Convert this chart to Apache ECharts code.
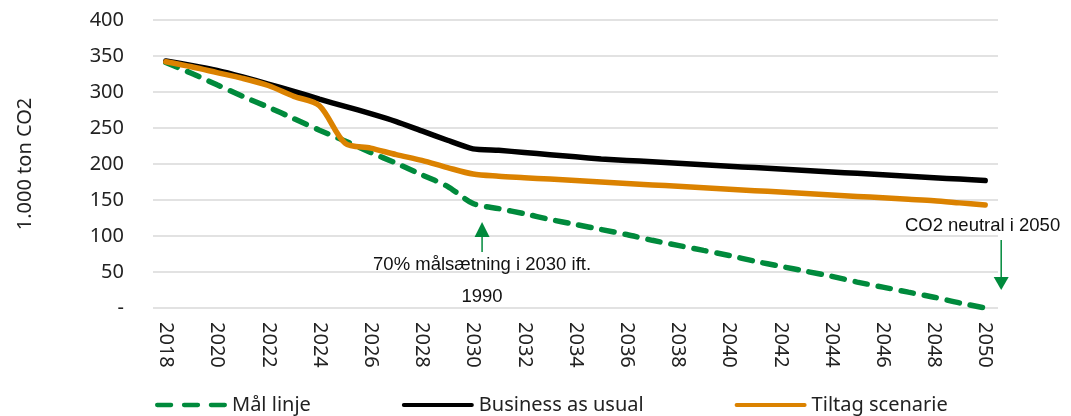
<!DOCTYPE html>
<html>
<head>
<meta charset="utf-8">
<script src="https://cdn.jsdelivr.net/npm/echarts@6/dist/echarts.min.js"></script>
<style>
  html, body { margin: 0; padding: 0; background: #fff; }
  #chart { width: 1071px; height: 416px; }
</style>
</head>
<body>
<div id="chart"></div>
<script>
// Years on the category axis
const years = [];
for (let y = 2018; y <= 2050; y++) years.push(String(y));

// Target path (Mål linje), 1.000 ton CO2
const maalLinje = [341, 326, 310, 294, 279, 263, 247, 232, 216, 201, 185, 169, 145,
  138, 131, 123, 116, 109, 102, 94, 87, 80, 73, 65, 58, 51, 44, 36, 29, 22, 15, 7, 0];

// Business as usual
const businessAsUsual = [343, 337, 330, 321, 311, 301, 290, 280, 270, 259, 246, 233, 221,
  219, 216, 213, 210, 207, 205, 203, 201, 199, 197, 195, 193, 191, 189, 187, 185, 183, 181, 179, 177];

// Tiltag scenarie
const tiltagScenarie = [342, 335, 327, 319, 309, 294, 281, 229, 222, 213, 205, 195, 186,
  183, 181, 179, 177, 175, 173, 171, 169, 167, 165, 163, 161, 159, 157, 155, 153, 151, 149, 146, 143];

const yTicks = { min: 0, max: 400, interval: 50 };

const GREEN = '#008A3C';
const BLACK = '#000000';
const ORANGE = '#DB8200';
const UI_FONT = '"Noto Sans", "Open Sans", sans-serif';
const NOTE_FONT = '"Liberation Sans", Arial, sans-serif';
const LINE_W = 5.5;

// Legend icons: three short dashes for the target line, a solid bar for the others
const DASH_ICON = 'path://M2,0h13a2,2 0 0 1 0,4h-13a2,2 0 0 1 0,-4z' +
  'M27,0h13a2,2 0 0 1 0,4h-13a2,2 0 0 1 0,-4z' +
  'M52,0h13a2,2 0 0 1 0,4h-13a2,2 0 0 1 0,-4z';
const BAR_ICON = 'path://M2,0h70a2,2 0 0 1 0,4h-70a2,2 0 0 1 0,-4z';

const chart = echarts.init(document.getElementById('chart'), null, { renderer: 'canvas' });

chart.setOption({
  animation: false,
  backgroundColor: '#fff',
  grid: { left: 153, right: 73, top: 20, bottom: 108, containLabel: false },
  xAxis: {
    type: 'category',
    data: years,
    boundaryGap: true,
    axisLine: { show: false },
    axisTick: { show: false },
    axisLabel: {
      rotate: -90,
      interval: 1,
      margin: 14,
      color: '#222',
      fontFamily: UI_FONT,
      fontSize: 20
    }
  },
  yAxis: {
    type: 'value',
    min: yTicks.min,
    max: yTicks.max,
    interval: yTicks.interval,
    name: '1.000 ton CO2',
    nameLocation: 'middle',
    nameGap: 118,
    nameRotate: 90,
    nameTextStyle: { color: '#222', fontFamily: UI_FONT, fontSize: 20 },
    axisLine: { show: false },
    axisTick: { show: false },
    axisLabel: {
      margin: 29,
      color: '#222',
      fontFamily: UI_FONT,
      fontSize: 20,
      formatter: v => (v === 0 ? '-' : String(v))
    },
    splitLine: { lineStyle: { color: '#d9d9d9', width: 1.5 } }
  },
  legend: {
    left: 150,
    top: 390,
    itemWidth: 72,
    itemHeight: 5,
    itemGap: 91,
    textStyle: { color: '#222', fontFamily: UI_FONT, fontSize: 20 },
    data: [
      { name: 'Mål linje', icon: DASH_ICON, itemStyle: { color: GREEN } },
      { name: 'Business as usual', icon: BAR_ICON, itemStyle: { color: BLACK } },
      { name: 'Tiltag scenarie', icon: BAR_ICON, itemStyle: { color: ORANGE } }
    ]
  },
  series: [
    {
      name: 'Mål linje',
      type: 'line',
      data: maalLinje,
      symbol: 'none',
      smooth: 0.25,
      color: GREEN,
      lineStyle: { color: GREEN, width: LINE_W, type: [12.5, 11], cap: 'round' },
      z: 2
    },
    {
      name: 'Business as usual',
      type: 'line',
      data: businessAsUsual,
      symbol: 'none',
      smooth: 0.2,
      color: BLACK,
      lineStyle: { color: BLACK, width: LINE_W, cap: 'round', join: 'round' },
      z: 3
    },
    {
      name: 'Tiltag scenarie',
      type: 'line',
      data: tiltagScenarie,
      symbol: 'none',
      smooth: 0.3,
      color: ORANGE,
      lineStyle: { color: ORANGE, width: LINE_W, cap: 'round', join: 'round' },
      z: 4
    }
  ]
});

// Annotations anchored to the axis positions of 2030 and 2050
function arrow(x, yTail, yTip, headLen) {
  const dir = yTip > yTail ? 1 : -1;
  const yBase = yTip - dir * headLen;
  return [
    { type: 'line', shape: { x1: x, y1: yTail, x2: x, y2: yBase },
      style: { stroke: GREEN, lineWidth: 1.5 }, z: 10 },
    { type: 'polygon', shape: { points: [[x - 7.5, yBase], [x + 7.5, yBase], [x, yTip]] },
      style: { fill: GREEN }, z: 10 }
  ];
}

const p2030 = chart.convertToPixel({ xAxisIndex: 0, yAxisIndex: 0 }, ['2030', 0]);
const p2050 = chart.convertToPixel({ xAxisIndex: 0, yAxisIndex: 0 }, ['2050', 0]);
const x30 = p2030[0] + 9;
const x50 = p2050[0] + 16;
const base = p2030[1];
const noteFont = '18.5px ' + NOTE_FONT;

const elements = []
  .concat(arrow(x30, base - 56, base - 86, 15))
  .concat(arrow(x50, base - 68, base - 18, 13))
  .concat([
    { type: 'text', x: x30, y: base - 43,
      style: { text: '70% målsætning i 2030 ift.', fill: '#111', font: noteFont,
               textAlign: 'center', textVerticalAlign: 'middle' }, z: 10 },
    { type: 'text', x: x30, y: base - 11,
      style: { text: '1990', fill: '#111', font: noteFont,
               textAlign: 'center', textVerticalAlign: 'middle' }, z: 10 },
    { type: 'text', x: x50 + 59, y: base - 82,
      style: { text: 'CO2 neutral i 2050', fill: '#111', font: noteFont,
               textAlign: 'right', textVerticalAlign: 'middle' }, z: 10 }
  ]);

chart.setOption({ graphic: { elements: elements } });
</script>
</body>
</html>
